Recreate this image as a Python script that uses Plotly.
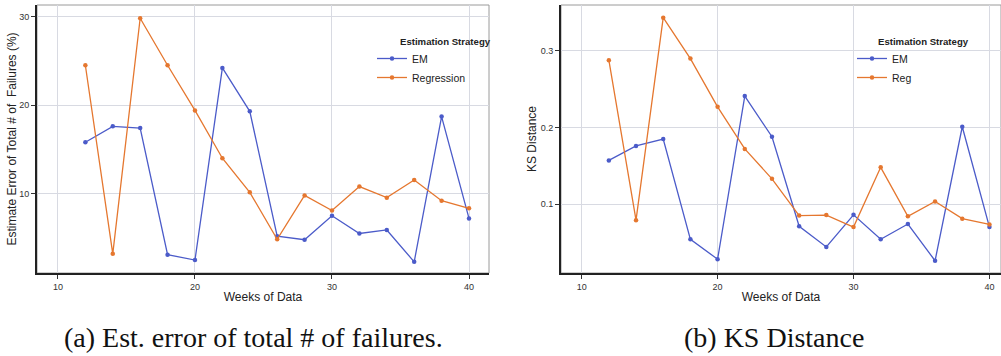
import plotly.graph_objects as go

weeks = [12, 14, 16, 18, 20, 22, 24, 26, 28, 30, 32, 34, 36, 38, 40]
err_em = [15.8, 17.6, 17.4, 3.1, 2.5, 24.2, 19.3, 5.2, 4.8, 7.5, 5.5, 5.9, 2.3, 18.7, 7.2]
err_reg = [24.5, 3.2, 29.8, 24.5, 19.4, 14.0, 10.15, 4.85, 9.8, 8.1, 10.8, 9.55, 11.55, 9.2, 8.35]
ks_em = [0.157, 0.176, 0.185, 0.054, 0.028, 0.241, 0.188, 0.071, 0.044, 0.086, 0.054, 0.074, 0.026, 0.201, 0.070]
ks_reg = [0.288, 0.079, 0.3435, 0.290, 0.227, 0.172, 0.133, 0.085, 0.0857, 0.070, 0.148, 0.084, 0.1035, 0.081, 0.0735]

x_ticks = [10, 20, 30, 40]
err_ticks = [10, 20, 30]
ks_ticks = [0.1, 0.2, 0.3]

BLUE = "#4b5bc9"
ORANGE = "#e5772f"
W, H = 1001, 356

def px_x(p):
    return p / W

def px_y(p):
    return 1 - p / H

fig = go.Figure()

def add(x, y, name, color, xa, ya, legend):
    fig.add_trace(go.Scatter(
        x=x, y=y, name=name, mode="lines+markers",
        line=dict(color=color, width=1.3),
        marker=dict(color=color, size=4.5),
        xaxis=xa, yaxis=ya, legend=legend,
    ))

add(weeks, err_em, "EM", BLUE, "x", "y", "legend")
add(weeks, err_reg, "Regression", ORANGE, "x", "y", "legend")
add(weeks, ks_em, "EM", BLUE, "x2", "y2", "legend2")
add(weeks, ks_reg, "Reg", ORANGE, "x2", "y2", "legend2")

SANS = "Liberation Sans, Arial"
tickfont = dict(family=SANS, size=9, color="#333")
titlefont = dict(family=SANS, size=12, color="#222")
grid = "#d8dae2"

common_x = dict(
    tickvals=x_ticks, showgrid=True, gridcolor=grid, gridwidth=1,
    showline=True, linecolor="#222", linewidth=2, mirror=False,
    ticks="outside", ticklen=4, tickcolor="#333", tickwidth=1,
    tickfont=tickfont, zeroline=False,
    title=dict(text="Weeks of Data", font=titlefont, standoff=2),
)
common_y = dict(
    showgrid=True, gridcolor=grid, gridwidth=1,
    showline=True, linecolor="#222", linewidth=2,
    ticks="outside", ticklen=4, tickcolor="#333", tickwidth=1,
    tickfont=tickfont, zeroline=False,
)

legend_common = dict(
    xanchor="left", yanchor="top",
    font=dict(family=SANS, size=10.5, color="#222"),
    bgcolor="rgba(255,255,255,0)", tracegroupgap=0, itemwidth=30,
)

fig.update_layout(
    width=W, height=H,
    margin=dict(l=0, r=0, t=0, b=0),
    paper_bgcolor="white", plot_bgcolor="white",
    xaxis=dict(domain=[px_x(37), px_x(489)], range=[8.47, 41.46], anchor="y", **common_x),
    yaxis=dict(domain=[px_y(273), px_y(5)], range=[1.04, 31.3], tickvals=err_ticks, anchor="x",
               title=dict(text="Estimate Error of Total # of  Failures (%)", font=titlefont, standoff=0),
               **common_y),
    xaxis2=dict(domain=[px_x(561), 1.0], range=[8.48, 40.85], anchor="y2", **common_x),
    yaxis2=dict(domain=[px_y(273), px_y(5)], range=[0.01, 0.36], tickvals=ks_ticks, anchor="x2",
                title=dict(text="KS Distance", font=titlefont, standoff=1),
                **common_y),
    legend=dict(x=px_x(372), y=px_y(44), **legend_common),
    legend2=dict(x=px_x(852), y=px_y(44), **legend_common),
    showlegend=True,
)

# gray frame on top and right of each panel
for xa, ya in [("x", "y"), ("x2", "y2")]:
    fig.add_shape(type="rect", xref=f"{xa} domain", yref=f"{ya} domain",
                  x0=0, x1=1, y0=0, y1=1, line=dict(color="#9a9a9a", width=1), layer="below")

# legend titles
for lx in (398, 876):
    fig.add_annotation(text="<b>Estimation Strategy</b>", xref="paper", yref="paper",
                       x=px_x(lx), y=px_y(42), showarrow=False, xanchor="left", yanchor="middle",
                       font=dict(family=SANS, size=9.6, color="#222"))

caption_font = dict(family="Liberation Serif, DejaVu Serif, serif", size=28, color="#111")
fig.add_annotation(text="(a) Est. error of total # of failures.", xref="paper", yref="paper",
                   x=px_x(253), y=px_y(337), showarrow=False, font=caption_font,
                   xanchor="center", yanchor="middle")
fig.add_annotation(text="(b) KS Distance", xref="paper", yref="paper",
                   x=px_x(774), y=px_y(337), showarrow=False, font=caption_font,
                   xanchor="center", yanchor="middle")

fig.write_html("out.html")
